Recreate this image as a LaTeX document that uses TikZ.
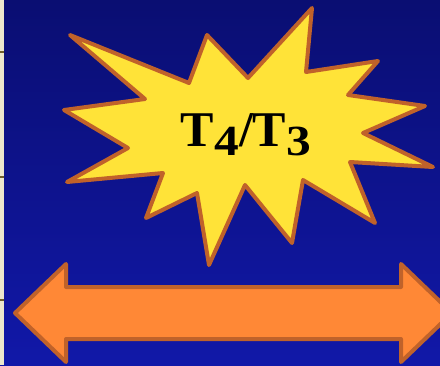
\documentclass[tikz,border=0pt]{standalone}
\usepackage{fontspec}
\usepackage{graphicx}
\newfontfamily\labfont{Liberation Serif}
\definecolor{bgtop}{HTML}{0A0E72}
\definecolor{bgbot}{HTML}{1118A8}
\definecolor{strip}{HTML}{EDE8CC}
\definecolor{tick}{HTML}{6E5F2A}
\definecolor{edge}{HTML}{C0622A}
\definecolor{starfill}{HTML}{FFE338}
\definecolor{arrowfill}{HTML}{FF8836}
\newcommand{\lowdigit}[1]{\raisebox{-9pt}{\fontsize{43}{43}\selectfont\scalebox{1.15}[1]{#1}}}
\tikzset{
  outline/.style={draw=edge, line width=4pt, line join=round},
  stripmark/.style={tick, line width=2.5pt}
}
\begin{document}
\begin{tikzpicture}[x=1pt,y=-1pt]
\useasboundingbox (0,0) rectangle (440,365);
\shade[top color=bgtop, bottom color=bgbot] (0,0) rectangle (440,365);
\fill[strip] (0,0) rectangle (4,365);
\foreach \yy in {52,177,300} \draw[stripmark] (0,\yy) -- (4,\yy);
% star burst
\filldraw[outline, fill=starfill]
 (70,35) -- (189,83) -- (207,35) -- (248,78) -- (312,8) -- (306,72) --
 (378,61) -- (348,95) -- (425,106) -- (363,133) -- (433,167) -- (350,162) --
 (375,223) -- (303,180) -- (292,243) -- (245,185) -- (209,265) -- (197,193) --
 (146,218) -- (163,173) -- (67,182) -- (128,148) -- (64,110) -- (145,99) -- cycle;
\node[anchor=base, inner sep=0pt] (label) at (246,146)
 {\labfont\bfseries\fontsize{50}{50}\selectfont T\lowdigit{4}/T\lowdigit{3}};
% double arrow
\begin{scope}
\clip (0,0) rectangle (440,365);
\filldraw[outline, fill=arrowfill]
 (15,313) -- (66,264) -- (66,287) -- (401,287) -- (401,264) -- (452,313) --
 (401,362) -- (401,339) -- (66,339) -- (66,362) -- cycle;
\end{scope}
\end{tikzpicture}
\end{document}
